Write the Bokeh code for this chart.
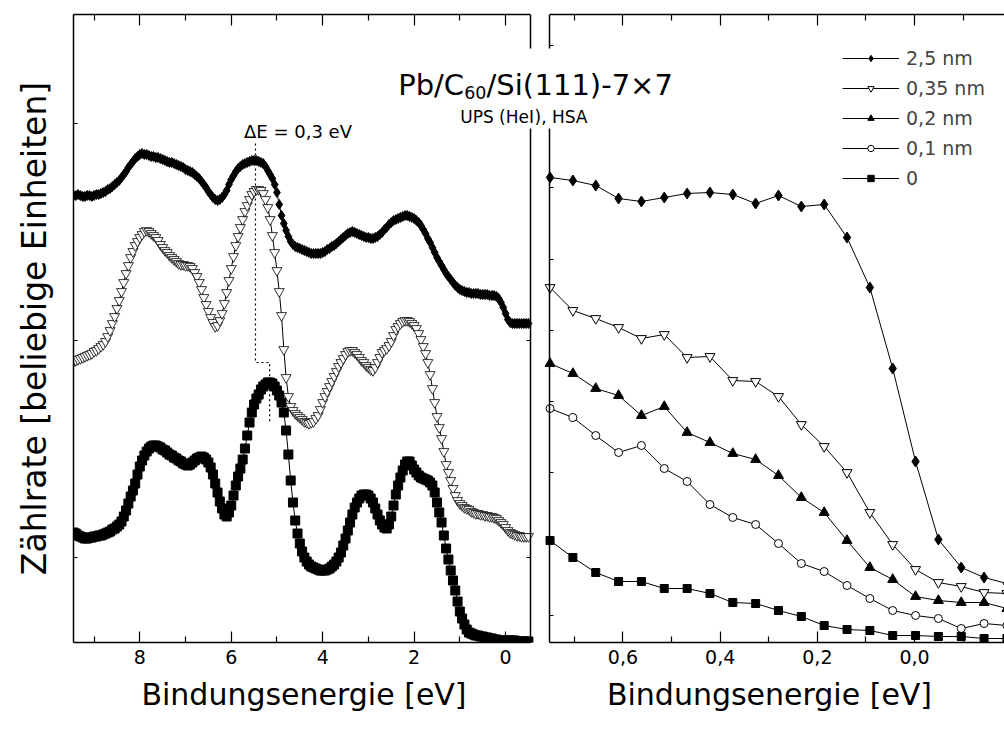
from bokeh.plotting import figure
from bokeh.models import (LinearAxis, FixedTicker, Label, Legend, LegendItem,
                          ColumnDataSource, CustomJSTickFormatter, BoxAnnotation)
from bokeh.layouts import row
from bokeh.embed import file_html
from bokeh.resources import INLINE

FONT = "DejaVu Sans"

# ---------------- data: left panel (UPS valence band, wide range) ----------------
energy_left = [
    9.45, 9.40, 9.35, 9.30, 9.25, 9.20, 9.15, 9.10, 9.05, 9.00,
    8.95, 8.90, 8.85, 8.80, 8.75, 8.70, 8.65, 8.60, 8.55, 8.50,
    8.45, 8.40, 8.35, 8.30, 8.25, 8.20, 8.15, 8.10, 8.05, 8.00,
    7.95, 7.90, 7.85, 7.80, 7.75, 7.70, 7.65, 7.60, 7.55, 7.50,
    7.45, 7.40, 7.35, 7.30, 7.25, 7.20, 7.15, 7.10, 7.05, 7.00,
    6.95, 6.90, 6.85, 6.80, 6.75, 6.70, 6.65, 6.60, 6.55, 6.50,
    6.45, 6.40, 6.35, 6.30, 6.25, 6.20, 6.15, 6.10, 6.05, 6.00,
    5.95, 5.90, 5.85, 5.80, 5.75, 5.70, 5.65, 5.60, 5.55, 5.50,
    5.45, 5.40, 5.35, 5.30, 5.25, 5.20, 5.15, 5.10, 5.05, 5.00,
    4.95, 4.90, 4.85, 4.80, 4.75, 4.70, 4.65, 4.60, 4.55, 4.50,
    4.45, 4.40, 4.35, 4.30, 4.25, 4.20, 4.15, 4.10, 4.05, 4.00,
    3.95, 3.90, 3.85, 3.80, 3.75, 3.70, 3.65, 3.60, 3.55, 3.50,
    3.45, 3.40, 3.35, 3.30, 3.25, 3.20, 3.15, 3.10, 3.05, 3.00,
    2.95, 2.90, 2.85, 2.80, 2.75, 2.70, 2.65, 2.60, 2.55, 2.50,
    2.45, 2.40, 2.35, 2.30, 2.25, 2.20, 2.15, 2.10, 2.05, 2.00,
    1.95, 1.90, 1.85, 1.80, 1.75, 1.70, 1.65, 1.60, 1.55, 1.50,
    1.45, 1.40, 1.35, 1.30, 1.25, 1.20, 1.15, 1.10, 1.05, 1.00,
    0.95, 0.90, 0.85, 0.80, 0.75, 0.70, 0.65, 0.60, 0.55, 0.50,
    0.45, 0.40, 0.35, 0.30, 0.25, 0.20, 0.15, 0.10, 0.05, 0.00,
    -0.05, -0.10, -0.15, -0.20, -0.25, -0.30, -0.35, -0.40, -0.45, -0.50,
]
counts_25nm_left = [
    579, 579, 580, 579, 578, 578, 579, 579, 578, 579,
    580, 580, 581, 582, 583, 585, 586, 588, 590, 592,
    594, 597, 600, 603, 607, 610, 613, 616, 618, 620,
    621, 620, 620, 619, 618, 618, 617, 617, 616, 615,
    614, 613, 612, 612, 611, 610, 609, 608, 607, 605,
    604, 603, 602, 600, 598, 596, 593, 590, 587, 583,
    580, 577, 575, 574, 575, 577, 580, 584, 590, 595,
    599, 603, 606, 608, 610, 611, 612, 613, 614, 614,
    614, 613, 612, 611, 608, 604, 600, 596, 590, 582,
    570, 559, 551, 544, 538, 533, 530, 528, 527, 526,
    525, 524, 523, 522, 521, 521, 521, 521, 521, 522,
    523, 525, 526, 528, 529, 531, 533, 535, 537, 539,
    541, 542, 543, 542, 541, 540, 539, 538, 537, 537,
    536, 536, 537, 538, 540, 542, 545, 547, 550, 552,
    554, 555, 556, 557, 558, 559, 559, 558, 557, 556,
    554, 552, 549, 545, 541, 536, 532, 527, 522, 517,
    513, 509, 505, 501, 498, 495, 492, 489, 487, 485,
    484, 483, 482, 482, 481, 481, 481, 481, 480, 480,
    480, 480, 479, 479, 479, 478, 476, 472, 467, 461,
    455, 452, 451, 451, 451, 451, 451, 451, 451, 451,
]
counts_035nm_left = [
    413, 414, 415, 416, 417, 418, 419, 420, 421, 423,
    424, 426, 428, 430, 433, 438, 444, 451, 458, 466,
    474, 483, 492, 501, 509, 517, 523, 529, 533, 537,
    540, 543, 544, 543, 541, 539, 537, 534, 530, 527,
    524, 522, 519, 517, 515, 513, 511, 510, 510, 509,
    509, 508, 506, 502, 498, 492, 485, 477, 470, 463,
    457, 452, 448, 449, 454, 461, 471, 482, 494, 506,
    518, 529, 538, 547, 555, 563, 569, 575, 580, 583,
    585, 585, 584, 581, 575, 567, 555, 539, 522, 504,
    483, 459, 425, 397, 378, 368, 364, 361, 359, 357,
    355, 353, 352, 351, 352, 353, 356, 359, 365, 372,
    378, 383, 388, 393, 398, 403, 408, 412, 416, 420,
    423, 424, 424, 422, 420, 417, 414, 412, 409, 407,
    405, 404, 407, 412, 417, 422, 424, 426, 429, 433,
    439, 445, 448, 451, 453, 454, 454, 453, 451, 449,
    446, 441, 435, 428, 421, 412, 400, 386, 372, 358,
    347, 336, 323, 310, 302, 294, 286, 279, 274, 271,
    269, 267, 266, 265, 263, 262, 261, 261, 260, 260,
    259, 259, 258, 258, 257, 256, 254, 252, 250, 247,
    244, 242, 241, 240, 239, 239, 238, 238, 238, 238,
]
counts_0_left = [
    242, 241, 239, 238, 237, 236, 236, 237, 237, 238,
    238, 239, 239, 240, 241, 242, 243, 245, 246, 248,
    250, 253, 258, 264, 271, 278, 284, 291, 300, 308,
    314, 319, 323, 326, 328, 329, 329, 328, 327, 325,
    324, 322, 320, 319, 317, 316, 314, 313, 311, 310,
    309, 310, 312, 314, 316, 317, 318, 317, 315, 312,
    307, 300, 291, 282, 273, 266, 260, 258, 262, 269,
    279, 289, 298, 306, 315, 326, 339, 352, 362, 370,
    376, 380, 385, 388, 390, 392, 392, 391, 388, 384,
    379, 372, 362, 344, 320, 294, 272, 254, 241, 231,
    223, 217, 213, 210, 208, 207, 206, 205, 204, 204,
    204, 205, 206, 208, 210, 213, 217, 222, 229, 236,
    244, 252, 260, 267, 272, 276, 279, 280, 280, 279,
    276, 272, 266, 260, 254, 250, 247, 246, 250, 258,
    269, 280, 289, 297, 304, 310, 313, 313, 309, 305,
    302, 299, 297, 296, 295, 294, 292, 289, 282, 272,
    262, 252, 239, 226, 215, 204, 194, 184, 173, 163,
    156, 150, 145, 142, 141, 140, 139, 139, 138, 138,
    137, 137, 136, 136, 135, 135, 134, 134, 134, 134,
    134, 134, 134, 134, 133, 133, 133, 133, 133, 133,
]

# ---------------- data: right panel (Fermi edge region) ----------------
energy_right = [0.75, 0.703, 0.656, 0.609, 0.562, 0.515, 0.468, 0.421, 0.374, 0.327,
                0.28, 0.233, 0.186, 0.139, 0.092, 0.045, -0.002, -0.049, -0.096,
                -0.143, -0.19]
counts_25nm_right = [597, 594, 589, 576, 573, 577, 581, 582, 580, 571, 579, 568, 570,
                     537, 487, 406, 313, 235, 207, 197, 191]
counts_035nm_right = [487, 464, 456, 447, 436, 440, 417, 418, 394, 393, 378, 350, 328,
                      302, 262, 230, 205, 192, 188, 182, 181]
counts_02nm_right = [411, 401, 386, 379, 359, 368, 342, 332, 321, 315, 299, 277, 262,
                     234, 207, 195, 178, 174, 172, 172, 166]
counts_01nm_right = [366, 357, 339, 322, 329, 306, 293, 270, 257, 250, 231, 211, 203,
                     189, 176, 164, 159, 156, 146, 151, 149]
counts_0_right = [234, 217, 202, 193, 193, 186, 186, 181, 172, 171, 164, 158, 149,
                  145, 144, 139, 139, 138, 138, 136, 136]

legend_labels = ["2,5 nm", "0,35 nm", "0,2 nm", "0,1 nm", "0"]

# ticks
left_ticks_major = [8, 6, 4, 2, 0]
left_ticks_minor = [9, 7, 5, 3, 1]
right_ticks_major = [0.6, 0.4, 0.2, 0.0]
right_ticks_minor = [0.7, 0.5, 0.3, 0.1, -0.1]
count_ticks_left = [217, 434, 651]
count_ticks_right = [159, 230.3, 301.6, 372.9, 444.2, 515.5, 586.8, 658.1, 729.4]

# panel limits (energy axes run from high to low binding energy)
left_panel_bounds = (9.45, -0.545)
right_panel_bounds = (0.751, -0.185)

# Delta E marker (peak positions 5.47 eV and 5.16 eV)
delta_e_x = [5.47, 5.47, 5.16, 5.16]
delta_e_y = [631, 412, 412, 352]

Y_RANGE = (132, 760)


def style_axis(ax, major_in, minor_in, labelled=False):
    ax.axis_line_color = "black"
    ax.axis_line_width = 1.5
    ax.major_tick_in = major_in
    ax.major_tick_out = 0
    ax.minor_tick_in = minor_in
    ax.minor_tick_out = 0
    ax.major_tick_line_color = "black"
    ax.minor_tick_line_color = "black"
    ax.major_tick_line_width = 1.2
    ax.minor_tick_line_width = 1.2
    if labelled:
        ax.major_label_text_font = FONT
        ax.major_label_text_font_size = "19px"
        ax.major_label_text_color = "black"
        ax.major_label_standoff = 7
    else:
        ax.major_label_text_font_size = "0px"
        ax.major_label_standoff = 0


def style_axis_label(ax, standoff, size="30px"):
    ax.axis_label_text_font = FONT
    ax.axis_label_text_font_size = size
    ax.axis_label_text_font_style = "normal"
    ax.axis_label_text_color = "black"
    ax.axis_label_standoff = standoff


def base_fig(width, xr, left, right):
    p = figure(width=width, height=729, x_range=xr, y_range=Y_RANGE,
               output_backend="svg", toolbar_location=None,
               x_axis_location=None, y_axis_location=None,
               min_border_left=left, min_border_right=right,
               min_border_top=14, min_border_bottom=87)
    p.outline_line_color = None
    p.grid.visible = False
    p.background_fill_color = "white"
    p.border_fill_color = "white"
    return p


def text_label(p, x, y, text, size, align="left"):
    lab = Label(x=x, y=y, text=text, text_font=FONT, text_font_size=size,
                text_color="black", text_align=align, text_baseline="alphabetic")
    p.add_layout(lab)
    return lab


def cover(p, x0, x1):
    # white patch that interrupts the frame lines behind the title
    p.add_layout(BoxAnnotation(left=x0, right=x1, top=726, bottom=646,
                               fill_color="white", fill_alpha=1.0, line_color=None))


# ================= left panel (frame reaches the split at x=534 px) =================
p1 = base_fig(534, (9.45, -0.633), 73, 0)
src1 = ColumnDataSource(dict(e=energy_left, d=counts_25nm_left,
                             t=counts_035nm_left, s=counts_0_left))

p1.line("e", "s", source=src1, line_color="black", line_width=1)
p1.scatter("e", "s", source=src1, marker="square", size=9,
           fill_color="black", line_color="black")
p1.line("e", "t", source=src1, line_color="black", line_width=1)
p1.scatter("e", "t", source=src1, marker="inverted_triangle", size=10,
           fill_color="white", line_color="black", line_width=0.8)
p1.line("e", "d", source=src1, line_color="black", line_width=1)
p1.scatter("e", "d", source=src1, marker="diamond", size=10,
           fill_color="black", line_color="black")

p1.line(delta_e_x, delta_e_y, line_color="black", line_width=1.2, line_dash="2 3")

xb1 = LinearAxis(ticker=FixedTicker(ticks=left_ticks_major, minor_ticks=left_ticks_minor),
                 axis_label="Bindungsenergie [eV]", bounds=left_panel_bounds)
style_axis(xb1, 11, 6, labelled=True)
style_axis_label(xb1, 10)
p1.add_layout(xb1, "below")

xa1 = LinearAxis(ticker=FixedTicker(ticks=left_ticks_major, minor_ticks=left_ticks_minor),
                 bounds=left_panel_bounds)
style_axis(xa1, 11, 6)
p1.add_layout(xa1, "above")

yl1 = LinearAxis(ticker=FixedTicker(ticks=count_ticks_left),
                 axis_label="Zählrate [beliebige Einheiten]")
style_axis(yl1, 4, 0)
style_axis_label(yl1, 20, "33px")
p1.add_layout(yl1, "left")

yr1 = LinearAxis(ticker=FixedTicker(ticks=count_ticks_left),
                 fixed_location=left_panel_bounds[1])
style_axis(yr1, 4, 0)
p1.add_layout(yr1, "right")

cover(p1, -0.33, -0.64)

text_label(p1, 4.54, 643, "ΔE = 0,3 eV", "18px", align="center")

# title, left part
text_label(p1, -0.622, 690, "/Si(", "29px", align="right")
text_label(p1, 0.419, 682, "60", "17.5px", align="right")
text_label(p1, 0.907, 690, "Pb/C", "29px", align="right")
text_label(p1, -0.622, 658, "UPS (HeI", "17px", align="right")

# ================= right panel (frame starts at the split) =================
p2 = base_fig(470, (0.782, -0.185), 0, 0)
src2 = ColumnDataSource(dict(e=energy_right, a=counts_25nm_right, b=counts_035nm_right,
                             c=counts_02nm_right, d=counts_01nm_right, f=counts_0_right))

styles = [
    ("a", "diamond", 11, "black"),
    ("b", "inverted_triangle", 10, "white"),
    ("c", "triangle", 10, "black"),
    ("d", "circle", 8, "white"),
    ("f", "square", 8, "black"),
]
items = []
for (col, marker, size, fill), lab in zip(styles, legend_labels):
    lr = p2.line("e", col, source=src2, line_color="black", line_width=1)
    sr = p2.scatter("e", col, source=src2, marker=marker, size=size,
                    fill_color=fill, line_color="black", line_width=1)
    items.append(LegendItem(label=lab, renderers=[lr, sr]))

fmt = CustomJSTickFormatter(code="return tick.toFixed(1).replace('.', ',');")
xb2 = LinearAxis(ticker=FixedTicker(ticks=right_ticks_major, minor_ticks=right_ticks_minor),
                 axis_label="Bindungsenergie [eV]", formatter=fmt, bounds=right_panel_bounds)
style_axis(xb2, 11, 6, labelled=True)
style_axis_label(xb2, 10)
p2.add_layout(xb2, "below")

xa2 = LinearAxis(ticker=FixedTicker(ticks=right_ticks_major, minor_ticks=right_ticks_minor),
                 bounds=right_panel_bounds)
style_axis(xa2, 11, 6)
p2.add_layout(xa2, "above")

yl2 = LinearAxis(ticker=FixedTicker(ticks=count_ticks_right),
                 fixed_location=right_panel_bounds[0])
style_axis(yl2, 4, 0)
p2.add_layout(yl2, "left")

legend = Legend(items=items, location=(308, 451), orientation="vertical",
                glyph_width=57, glyph_height=16, label_height=27, spacing=3,
                padding=0, margin=0, label_standoff=7,
                border_line_color=None, background_fill_alpha=0,
                label_text_font=FONT, label_text_font_size="19px")
p2.add_layout(legend)

cover(p2, 0.79, 0.737)

# title, right part
text_label(p2, 0.782, 690, "111)-7×7", "29px", align="left")
text_label(p2, 0.782, 658, "), HSA", "17px", align="left")

layout = row(p1, p2)
open("out.html", "w").write(file_html(layout, INLINE))
